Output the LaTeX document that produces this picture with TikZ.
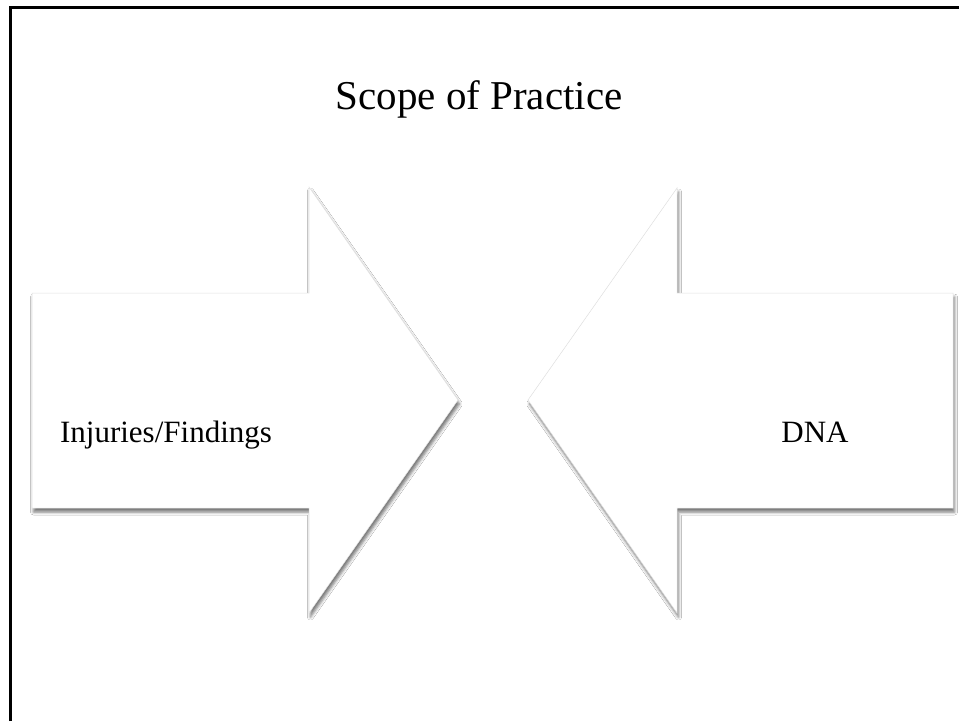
\documentclass[tikz,border=0pt]{standalone}
\usepackage{fontspec}
\setmainfont{Liberation Serif}
\usetikzlibrary{shadows.blur}
\begin{document}
\begin{tikzpicture}[x=1pt,y=-1pt,
  arrowshape/.style={fill=white, draw=black!12, line width=0.5pt,
    blur shadow={shadow xshift=1.5pt, shadow yshift=-4pt, shadow blur radius=3pt, shadow opacity=55}},
  frameline/.style={line width=3pt, black},
  label/.style={font=\fontsize{31}{34}\selectfont, anchor=base}]
\useasboundingbox (0,0) rectangle (959,721);
\fill[white] (0,0) rectangle (959,721);
\draw[frameline] (10,721) -- (10,7) -- (959,7);
\node[font=\fontsize{41}{46}\selectfont, anchor=base] (title) at (479,109) {Scope of Practice};
\path[arrowshape] (32,293) -- (309,293) -- (309,187) -- (458,400) -- (309,613) -- (309,508) -- (32,508) -- cycle;
\path[arrowshape] (953,293) -- (677,293) -- (677,188) -- (528,400) -- (677,613) -- (677,508) -- (953,508) -- cycle;
\node[label] (inj) at (166,442) {Injuries/Findings};
\node[label] (dna) at (815,442) {DNA};
\end{tikzpicture}
\end{document}
